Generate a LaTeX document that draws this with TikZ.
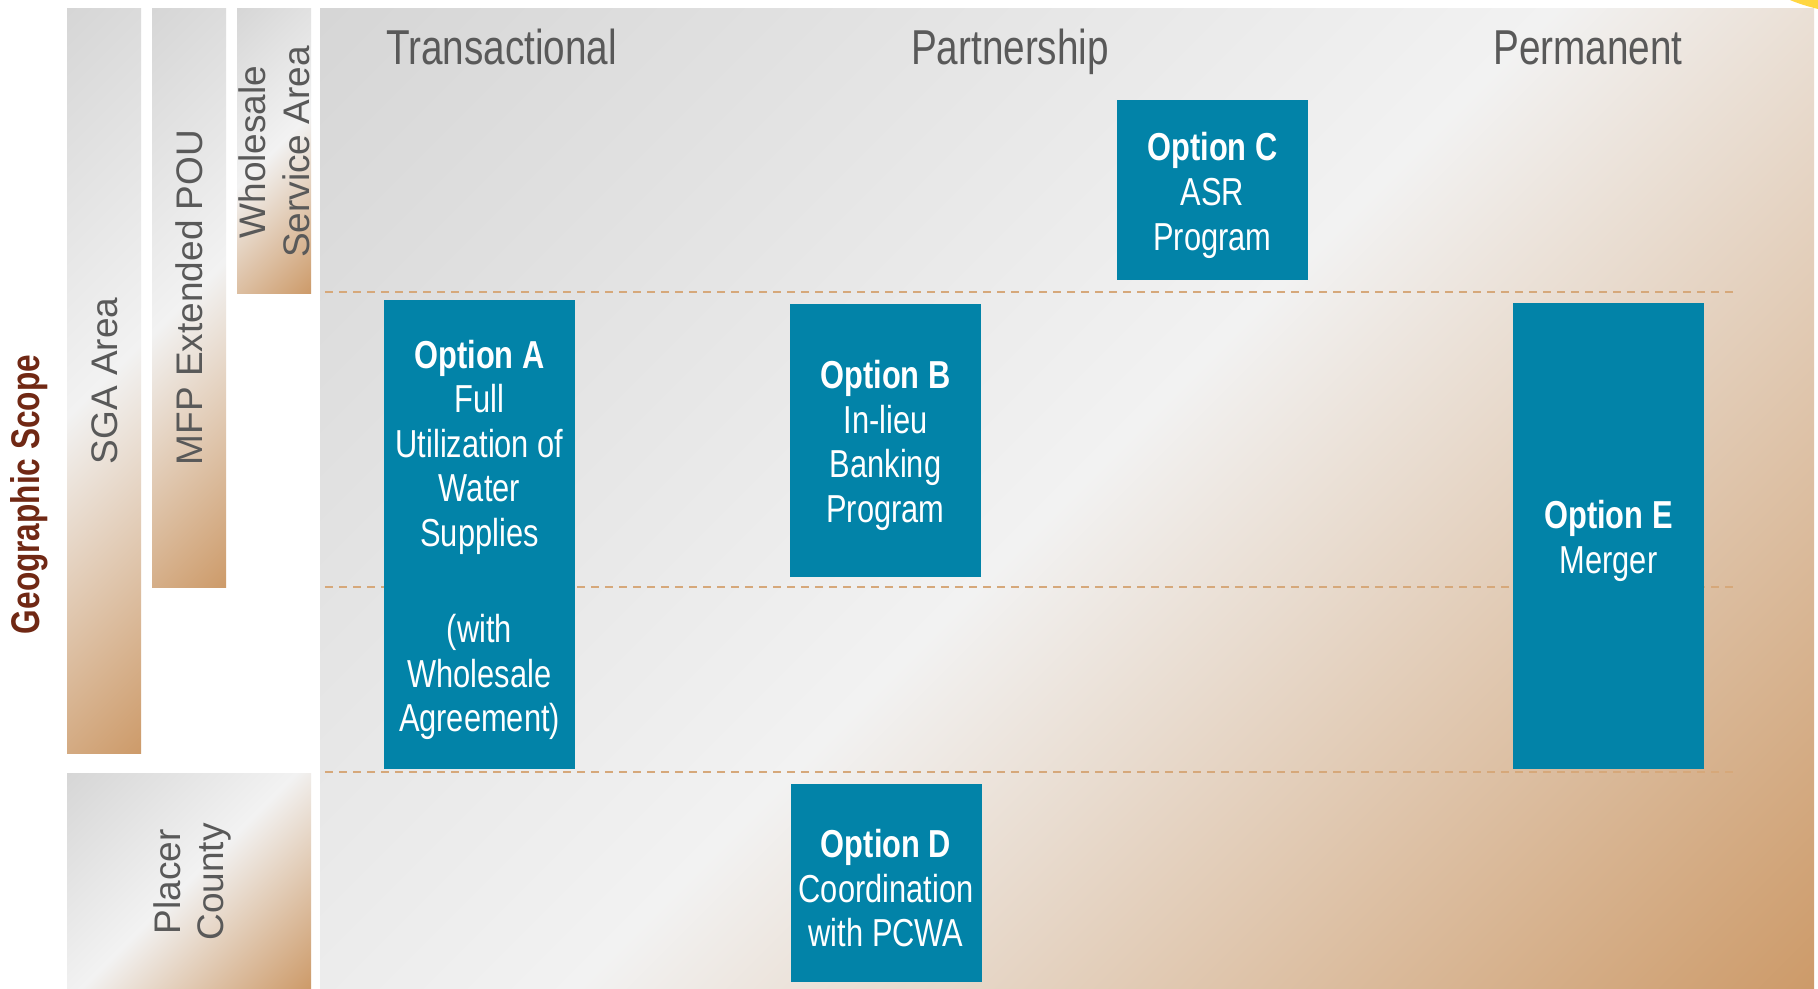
\documentclass[tikz,border=0pt]{standalone}
\usepackage{fontspec}
\setmainfont{Liberation Sans}
\newfontfamily\narrowfont[FakeStretch=0.79]{Liberation Sans}
\definecolor{pgray}{RGB}{214,214,214}
\definecolor{pwhite}{RGB}{242,242,242}
\definecolor{ptan}{RGB}{205,155,106}
\definecolor{optteal}{RGB}{2,131,168}
\definecolor{labelgray}{RGB}{89,89,89}
\definecolor{scopebrown}{RGB}{112,40,20}
\definecolor{dashtan}{RGB}{214,168,122}
\definecolor{sunyellow}{RGB}{255,214,64}
\pgfdeclarehorizontalshading{pptshade}{100bp}{color(0bp)=(pgray); color(14.64bp)=(pgray); color(50bp)=(pwhite); color(85.36bp)=(ptan); color(100bp)=(ptan)}
\newcommand{\topstrut}{\rule{0pt}{39pt}}
\tikzset{
  grad/.style={shading=pptshade, shading angle=-45},
  optbox/.style={fill=optteal, text=white, font=\narrowfont\fontsize{39}{44.6}\selectfont, align=center, inner sep=0pt, minimum width=191pt},
  header/.style={text=labelgray, font=\narrowfont\fontsize{49}{56}\selectfont, anchor=base, inner sep=0pt},
  sidelabel/.style={text=labelgray, rotate=90, align=center, inner sep=0pt},
  sepline/.style={draw=dashtan, line width=2pt, dash pattern=on 8pt off 6pt},
}
\begin{document}
\begin{tikzpicture}[x=1pt,y=-1pt]
\useasboundingbox (0,0) rectangle (1818,988);
\fill[white] (0,0) rectangle (1818,988);
% shaded areas
\shade[grad] (320,8) rectangle (1814,988);
\shade[grad] (67,8) rectangle (141,753);
\shade[grad] (152,8) rectangle (226,587);
\shade[grad] (237,8) rectangle (311,293);
\shade[grad] (67,773) rectangle (311,988);
% yellow corner
\fill[sunyellow] (1790,0) -- (1818,0) -- (1818,9) .. controls (1806,6) and (1797,3) .. (1790,0) -- cycle;
% separators
\coordinate (s1a) at (325,292); \coordinate (s1b) at (1733,292);
\coordinate (s2a) at (325,587); \coordinate (s2b) at (1733,587);
\coordinate (s3a) at (325,772); \coordinate (s3b) at (1733,772);
\draw[sepline] (s1a) -- (s1b);
\draw[sepline] (s2a) -- (s2b);
\draw[sepline] (s3a) -- (s3b);
% headers
\node[header] (hT) at (501.5,64) {Transactional};
\node[header] (hP) at (1010,64) {Partnership};
\node[header] (hM) at (1588,64) {Permanent};
% left labels
\node[rotate=90, inner sep=0pt, text=scopebrown, font=\narrowfont\bfseries\fontsize{40}{46}\selectfont] (geo) at (29.5,494.5) {Geographic Scope};
\node[sidelabel, font=\fontsize{37}{44}\selectfont] (sga) at (104.5,381) {SGA Area};
\node[sidelabel, font=\fontsize{37}{44}\selectfont] (mfp) at (189.5,297.5) {MFP Extended POU};
\node[sidelabel, font=\fontsize{37}{44}\selectfont] (wsa) at (274,152) {Wholesale\\Service Area};
\node[sidelabel, font=\fontsize{37}{43}\selectfont] (placer) at (192,882) {Placer\\County};
% option boxes
\node[optbox, minimum height=469pt] (optA) at (479.5,534.5) {\topstrut\textbf{Option A}\\Full\\Utilization of\\Water\\Supplies\\[51.6pt](with\\Wholesale\\Agreement)};
\node[optbox, minimum height=273pt] (optB) at (885.5,440) {\topstrut\textbf{Option B}\\In-lieu\\Banking\\Program};
\node[optbox, minimum height=180pt] (optC) at (1212.5,190) {\topstrut\textbf{Option C}\\ASR\\Program};
\node[optbox, minimum height=198pt] (optD) at (886,883) {\topstrut\textbf{Option D}\\Coordination\\with PCWA};
\node[optbox, minimum height=466pt] (optE) at (1608.5,535.5) {\topstrut\textbf{Option E}\\Merger};
\end{tikzpicture}
\end{document}
